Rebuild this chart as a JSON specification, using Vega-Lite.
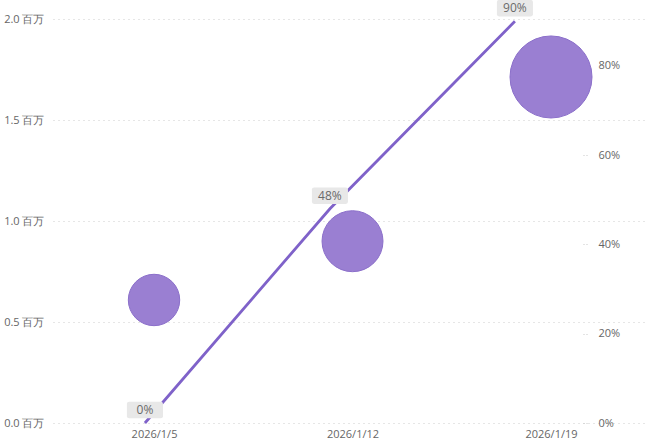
{
  "$schema": "https://vega.github.io/schema/vega-lite/v6.json",
  "width": 594,
  "height": 404,
  "autosize": {"type": "none"},
  "padding": {"left": 53, "top": 19, "right": 10, "bottom": 18},
  "background": "white",
  "config": {
    "view": {"stroke": null},
    "font": "Open Sans",
    "axis": {"labelFont": "Open Sans", "labelColor": "#666666", "labelFontSize": 11, "domain": false, "ticks": false, "title": null}
  },
  "datasets": {
    "bubbles": [
      {"日期": "2026-01-05", "金额": 609000},
      {"日期": "2026-01-12", "金额": 900000},
      {"日期": "2026-01-19", "金额": 1713000}
    ],
    "rate": [
      {"序号": 0, "占比": 0.0, "标签": "0%"},
      {"序号": 1, "占比": 0.48, "标签": "48%"},
      {"序号": 2, "占比": 0.9, "标签": "90%"}
    ]
  },
  "layer": [
    {
      "data": {"name": "bubbles"},
      "mark": {"type": "circle", "color": "#9a7fd2", "opacity": 1, "stroke": "#8b6fca", "strokeWidth": 1},
      "encoding": {
        "x": {
          "field": "日期", "type": "temporal",
          "scale": {"type": "utc", "domain": [{"year": 2026, "month": 1, "date": 1, "hours": 10, "minutes": 30, "utc": true}, {"year": 2026, "month": 1, "date": 22, "hours": 9, "minutes": 15, "utc": true}]},
          "axis": {
            "values": [{"year": 2026, "month": 1, "date": 5, "utc": true}, {"year": 2026, "month": 1, "date": 12, "utc": true}, {"year": 2026, "month": 1, "date": 19, "utc": true}],
            "labelExpr": "utcFormat(datum.value, '%Y/%-m/%-d')",
            "grid": false, "labelPadding": 5
          }
        },
        "y": {
          "field": "金额", "type": "quantitative",
          "scale": {"domain": [0, 2000000]},
          "axis": {
            "values": [0, 500000, 1000000, 1500000, 2000000],
            "labelExpr": "format(datum.value / 1000000, '.1f') + ' 百万'",
            "grid": true, "gridColor": "#cccccc", "gridDash": [1, 4], "gridWidth": 1,
            "labelPadding": 9
          }
        },
        "size": {
          "field": "金额", "type": "quantitative",
          "scale": {"domain": [609000, 1713000], "range": [2642, 6724]},
          "legend": null
        }
      }
    },
    {
      "data": {"name": "rate"},
      "encoding": {
        "x": {"field": "序号", "type": "quantitative", "scale": {"domain": [-0.497, 2.714], "nice": false, "zero": false}, "axis": null},
        "y": {
          "field": "占比", "type": "quantitative",
          "scale": {"domain": [0, 0.905], "nice": false},
          "axis": {
            "orient": "right", "values": [0, 0.2, 0.4, 0.6, 0.8], "format": ".0%",
            "grid": false, "offset": -64, "ticks": true, "tickSize": 6, "tickDash": [1, 2], "tickColor": "#c8c8c8",
            "labelPadding": 9, "labelAlign": "left"
          }
        }
      },
      "layer": [
        {"mark": {"type": "line", "color": "#7f62c9", "strokeWidth": 2.8}},
        {
          "mark": {"type": "point", "shape": "M-0.88,-0.46H0.88Q1,-0.46 1,-0.34V0.34Q1,0.46 0.88,0.46H-0.88Q-1,0.46 -1,0.34V-0.34Q-1,-0.46 -0.88,-0.46Z", "filled": true, "color": "#e8e8e8", "opacity": 1, "size": 1300, "yOffset": -13}
        },
        {
          "mark": {"type": "text", "color": "#6a6a6a", "fontSize": 12, "font": "Open Sans", "dy": -13, "align": "center", "baseline": "middle"},
          "encoding": {"text": {"field": "标签"}}
        }
      ]
    }
  ],
  "resolve": {"scale": {"x": "independent", "y": "independent", "size": "independent"}}
}
